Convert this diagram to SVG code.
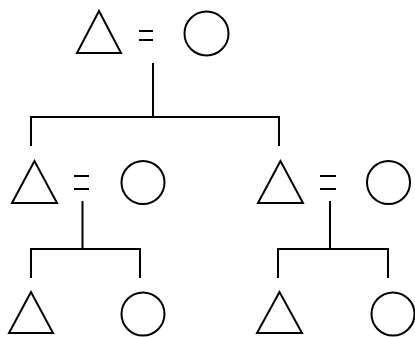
<svg xmlns="http://www.w3.org/2000/svg" width="415" height="337" viewBox="0 0 415 337">
<style>
.s{fill:none;stroke:#000;stroke-width:2}
.c{fill:none;stroke:#000;stroke-width:2}
</style>
<rect width="415" height="337" fill="#fff"/>
<g id="top-male"><polygon class="s" points="99,11 77,53 121,53"/></g>
<g id="top-marriage"><line class="s" x1="139" y1="31" x2="153" y2="31"/><line class="s" x1="139" y1="40" x2="153" y2="40"/></g>
<g id="top-female"><circle class="c" cx="206.5" cy="33.5" r="22"/></g>
<g id="mid-left-male"><polygon class="s" points="34.5,161 12,203 57,203"/></g>
<g id="mid-left-marriage"><line class="s" x1="74" y1="176" x2="89" y2="176"/><line class="s" x1="74" y1="189" x2="89" y2="189"/></g>
<g id="mid-left-female"><circle class="c" cx="143" cy="182.5" r="21.5"/></g>
<g id="mid-right-male"><polygon class="s" points="280.5,161 258,203 303,203"/></g>
<g id="mid-right-marriage"><line class="s" x1="320" y1="176" x2="336" y2="176"/><line class="s" x1="320" y1="189" x2="336" y2="189"/></g>
<g id="mid-right-female"><circle class="c" cx="388.5" cy="182.5" r="21.5"/></g>
<g id="bot-left-male"><polygon class="s" points="31,292 9,333 53,333"/></g>
<g id="bot-left-female"><circle class="c" cx="143" cy="314" r="21.5"/></g>
<g id="bot-right-male"><polygon class="s" points="279.5,292 257,333 302,333"/></g>
<g id="bot-right-female"><circle class="c" cx="393" cy="314" r="21.5"/></g>
<g id="connectors" class="s">
<polyline class="s" points="153,63 153,117"/>
<polyline class="s" points="31,146 31,117 279,117 279,146"/>
<polyline class="s" points="82.5,201 82.5,249"/>
<polyline class="s" points="31,278 31,249 140,249 140,278"/>
<polyline class="s" points="330,201 330,249"/>
<polyline class="s" points="278,278 278,249 388,249 388,278"/>
</g>
</svg>
